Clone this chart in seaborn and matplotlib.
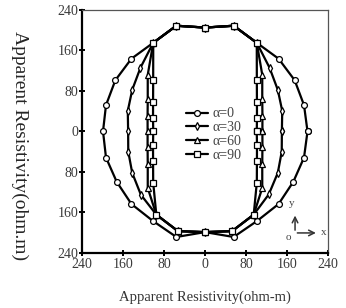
import numpy as np
import pandas as pd
import matplotlib
matplotlib.use("Agg")
import matplotlib.pyplot as plt
import seaborn as sns

# azimuth of each measurement (deg, counter-clockwise from x)
azimuth = list(range(0, 360, 15))

# apparent resistivity (ohm-m) at each azimuth
rho_a0 = [200, 200, 202, 203, 202, 216, 205, 216, 202, 203, 202, 200,
          199, 200, 199, 203, 204, 216, 199, 216, 204, 203, 199, 200]
rho_a30 = [150, 156, 164, 178, 202, 216, 205, 216, 202, 178, 164, 156,
           150, 155, 164, 177, 190, 204, 199, 204, 190, 176, 164, 155]
rho_a60 = [112, 116, 129, 158, 202, 216, 205, 216, 202, 158, 129, 116,
           112, 116, 129, 158, 190, 204, 199, 204, 190, 158, 129, 116]
rho_a90 = [101, 105, 117, 143, 202, 216, 205, 216, 202, 143, 117, 105,
           101, 105, 117, 143, 190, 204, 199, 204, 190, 143, 117, 105]

series_names = ["\u03b1=0", "\u03b1=30", "\u03b1=60", "\u03b1=90"]
tick_values = [-240, -160, -80, 0, 80, 160, 240]
tick_labels = ["240", "160", "80", "0", "80", "160", "240"]

# long table, closing each curve on its first point
rows = []
for name, rho in zip(series_names, [rho_a0, rho_a30, rho_a60, rho_a90]):
    for i, (ang, r) in enumerate(zip(azimuth + [azimuth[0]], rho + [rho[0]])):
        t = np.deg2rad(ang)
        rows.append({"series": name, "order": i,
                     "x": r * np.cos(t), "y": r * np.sin(t)})
df = pd.DataFrame(rows)

sns.set_style("ticks")
plt.rcParams["font.family"] = ["Liberation Serif", "DejaVu Serif"]

fig = plt.figure(figsize=(3.46, 3.08), dpi=100)
ax = fig.add_axes([0.237, 0.179, 0.711, 0.789])

markers = {"\u03b1=0": "o", "\u03b1=30": "d", "\u03b1=60": "^", "\u03b1=90": "s"}
sns.lineplot(data=df, x="x", y="y", hue="series", style="series",
             markers=markers, dashes=False, sort=False, estimator=None,
             palette=["black"] * 4, linewidth=1.6, markersize=4.2,
             markerfacecolor="white", markeredgecolor="black",
             markeredgewidth=0.9, ax=ax)

ax.set_xlim(-240, 240)
ax.set_ylim(-240, 240)
ax.set_xticks(tick_values)
ax.set_xticklabels(tick_labels)
ax.set_yticks(tick_values)
ax.set_yticklabels(tick_labels)
ax.tick_params(direction="inout", length=5, width=1.4, color="black",
               labelsize=10, labelcolor="#3a3a3a", pad=1)
ax.tick_params(axis="y", pad=0)

for side in ["left", "bottom"]:
    ax.spines[side].set_linewidth(1.6)
    ax.spines[side].set_color("black")
for side in ["top", "right"]:
    ax.spines[side].set_linewidth(0.9)
    ax.spines[side].set_color("#555555")

ax.set_xlabel("Apparent Resistivity(ohm-m)", fontsize=10.5, color="#333333",
              labelpad=14)
ax.set_ylabel("Apparent Resistivity(ohm.m)", fontsize=14, rotation=270,
              va="center", ha="center")
ax.yaxis.set_label_coords(-0.252, 0.44)

handles, labels = ax.get_legend_handles_labels()
ax.legend(handles, labels, loc="center", bbox_to_anchor=(0.535, 0.487),
          frameon=False, fontsize=10, labelcolor="#444444",
          handlelength=1.6, handletextpad=0.35, labelspacing=0.05,
          borderpad=0)

# small coordinate sketch in the lower right
arrow = dict(arrowstyle="->", color="#333333", lw=1.1)
ax.annotate("", xy=(0.866, 0.165), xytext=(0.866, 0.082),
            xycoords="axes fraction", arrowprops=arrow)
ax.annotate("", xy=(0.962, 0.082), xytext=(0.864, 0.082),
            xycoords="axes fraction", arrowprops=arrow)
ax.text(0.854, 0.205, "y", transform=ax.transAxes, fontsize=8,
        color="#444444", ha="center", va="center")
ax.text(0.982, 0.082, "x", transform=ax.transAxes, fontsize=8,
        color="#444444", ha="center", va="center")
ax.text(0.838, 0.062, "o", transform=ax.transAxes, fontsize=8,
        color="#444444", ha="center", va="center")

fig.savefig("out.png", dpi=100)
